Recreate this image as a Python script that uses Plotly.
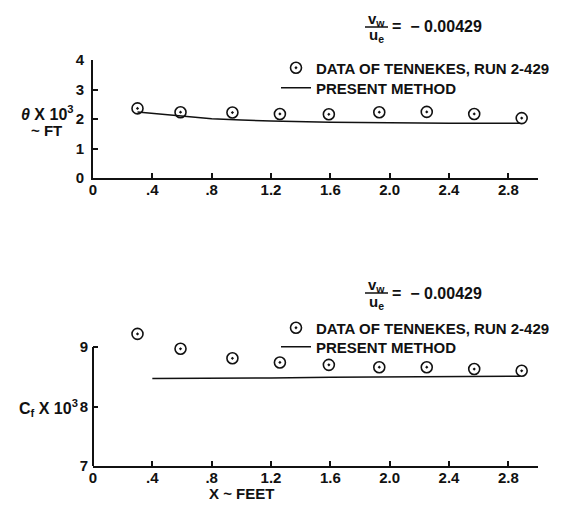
import plotly.graph_objects as go

# ---- data ----
x_data = [0.30, 0.59, 0.94, 1.26, 1.59, 1.93, 2.25, 2.57, 2.89]
theta_data = [2.36, 2.23, 2.22, 2.17, 2.16, 2.23, 2.24, 2.17, 2.03]
cf_data = [9.22, 8.97, 8.81, 8.74, 8.70, 8.66, 8.66, 8.63, 8.60]

x_theta_line = [0.30, 0.50, 0.80, 1.00, 1.20, 1.60, 2.00, 2.40, 2.88]
theta_line = [2.24, 2.15, 2.01, 1.97, 1.93, 1.89, 1.87, 1.86, 1.86]

x_cf_line = [0.40, 0.80, 1.20, 1.60, 2.00, 2.40, 2.88]
cf_line = [8.47, 8.47, 8.48, 8.49, 8.50, 8.50, 8.51]

x_tickvals = [0, 0.4, 0.8, 1.2, 1.6, 2.0, 2.4, 2.8]
x_ticktext = ["0", ".4", ".8", "1.2", "1.6", "2.0", "2.4", "2.8"]
theta_ticks = [0, 1, 2, 3, 4]
cf_ticks = [7, 8, 9]

legend_data = "DATA OF TENNEKES, RUN 2-429"
legend_line = "PRESENT METHOD"

W, H = 567, 507
OFF = 8  # page body margin offset in the browser
FONT = "Liberation Sans"
BLACK = "#111"

def px_x(p):
    return (p - OFF) / W

def px_y(p):
    return 1 - (p - OFF) / H

fig = go.Figure()

marker = dict(symbol="circle-open-dot", size=11, color=BLACK, line=dict(width=1.6, color=BLACK))
line_style = dict(color=BLACK, width=1.5)

fig.add_trace(go.Scatter(x=x_data, y=theta_data, mode="markers", marker=marker,
                         name=legend_data, xaxis="x", yaxis="y", legend="legend",
                         cliponaxis=False, showlegend=True))
fig.add_trace(go.Scatter(x=x_theta_line, y=theta_line, mode="lines", line=line_style,
                         name=legend_line, xaxis="x", yaxis="y", legend="legend2",
                         showlegend=True))
fig.add_trace(go.Scatter(x=x_data, y=cf_data, mode="markers", marker=marker,
                         name=legend_data, xaxis="x2", yaxis="y2", legend="legend3",
                         cliponaxis=False, showlegend=True))
fig.add_trace(go.Scatter(x=x_cf_line, y=cf_line, mode="lines", line=line_style,
                         name=legend_line, xaxis="x2", yaxis="y2", legend="legend4",
                         showlegend=True))

tick_font = dict(family=FONT, size=15, color=BLACK, weight="bold")
xdom = [px_x(93), px_x(538)]
common_x = dict(range=[0, 3.0], tickvals=x_tickvals, ticktext=x_ticktext,
                ticks="inside", ticklen=5, tickwidth=1.5, tickcolor=BLACK,
                showline=True, linecolor=BLACK, linewidth=2, showgrid=False,
                zeroline=False, domain=xdom, automargin=False, tickfont=tick_font,
                ticklabelstandoff=-3)
common_y = dict(ticks="inside", ticklen=5, tickwidth=1.5, tickcolor=BLACK,
                linecolor=BLACK, linewidth=2, showgrid=False, automargin=False,
                zeroline=False, tickfont=tick_font, ticklabelstandoff=4)

# bottom panel: axis spans 7..9, a little headroom above for the first data point
cf_range = [7, 9.3]
px_per_unit_cf = (466 - 347) / 2.0
cf_top_px = 466 - (cf_range[1] - cf_range[0]) * px_per_unit_cf

def legend_at(x, y):
    return dict(x=px_x(x), y=px_y(y), xanchor="left", yanchor="middle",
                bgcolor="rgba(0,0,0,0)", itemwidth=30, borderwidth=0, visible=True,
                font=dict(family=FONT, size=15, color=BLACK, weight="bold"))

fig.update_layout(
    template="none",
    showlegend=True,
    width=W, height=H,
    margin=dict(l=0, r=0, t=0, b=0, pad=0, autoexpand=False),
    paper_bgcolor="white", plot_bgcolor="rgba(0,0,0,0)",
    font=dict(family=FONT, color=BLACK),
    xaxis=dict(**common_x, anchor="y"),
    yaxis=dict(**common_y, showline=True, range=[0, 4], tickvals=theta_ticks,
               domain=[px_y(178), px_y(60)], anchor="x"),
    xaxis2=dict(**common_x, anchor="y2"),
    yaxis2=dict(**common_y, showline=False, range=cf_range, tickvals=cf_ticks,
                domain=[px_y(466), px_y(cf_top_px)], anchor="x2"),
    legend=legend_at(276, 68),
    legend2=legend_at(276, 88),
    legend3=legend_at(276, 328),
    legend4=legend_at(276, 347),
)

ann_font = dict(family=FONT, size=15, color=BLACK, weight="bold")
annotations = []
shapes = []

# left axis line of bottom panel (7 .. 9 only)
shapes.append(dict(type="line", xref="x2 domain", yref="y2", x0=0, x1=0,
                   y0=cf_ticks[0], y1=cf_ticks[-1], line=dict(color=BLACK, width=2)))

def label(x, y, text, xanchor="center", size=15):
    f = dict(ann_font)
    f["size"] = size
    annotations.append(dict(x=px_x(x), y=px_y(y), xref="paper", yref="paper",
                            xanchor=xanchor, yanchor="middle",
                            text=text, showarrow=False, font=f))

# y-axis titles
label(47, 113, "<i>θ</i> X 10<sup>3</sup>", size=16)
label(46, 130, "~ FT")
label(48, 408, "C<sub>f</sub> X 10<sup>3</sup>", size=16)
# x-axis title
label(241, 493, "X ~ FEET")

# ratio labels
for yc in (27, 293):
    label(376, yc - 8, "v<sub>w</sub>")
    label(376, yc + 9, "u<sub>e</sub>")
    label(390, yc, "=  − 0.00429", xanchor="left", size=16)
    shapes.append(dict(type="line", xref="paper", yref="paper",
                       x0=px_x(365), x1=px_x(388), y0=px_y(yc), y1=px_y(yc),
                       line=dict(color=BLACK, width=1.5)))

fig.update_layout(annotations=annotations, shapes=shapes)

fig.write_html("out.html")
